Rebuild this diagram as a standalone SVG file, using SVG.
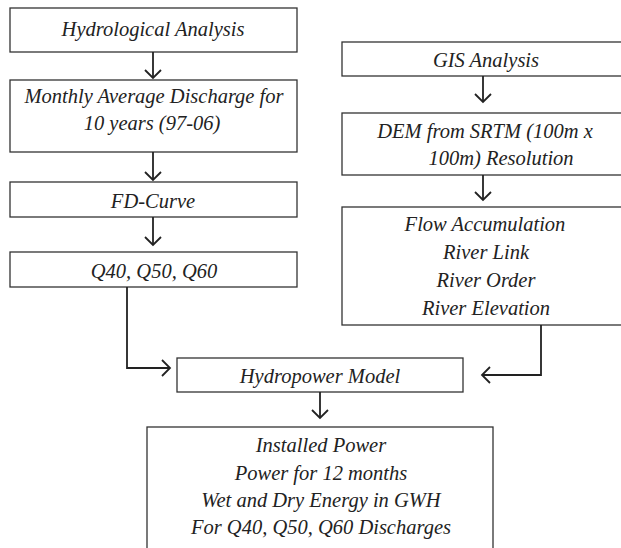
<svg xmlns="http://www.w3.org/2000/svg" width="621" height="548" viewBox="0 0 621 548">
<defs>
<style>
.box{fill:#fff;stroke:#333;stroke-width:1.3}
.t{font-family:"Liberation Serif","DejaVu Serif",serif;font-style:italic;font-size:20.5px;fill:#222;text-anchor:middle}
.c{fill:none;stroke:#222;stroke-width:1.8}
</style>
<marker id="ah" markerUnits="userSpaceOnUse" markerWidth="20" markerHeight="20" viewBox="-10 -10 20 20" refX="0" refY="0" orient="auto">
<path d="M-8,-8 L0,0 L-8,8" fill="none" stroke="#222" stroke-width="1.8"/>
</marker>
</defs>
<rect width="621" height="548" fill="#fff"/>
<g id="n1"><rect class="box" x="10" y="8" width="287" height="44"/><text class="t" x="153" y="36">Hydrological Analysis</text></g>
<g id="n2"><rect class="box" x="10" y="80" width="287" height="72"/><text class="t" x="154" y="103">Monthly Average Discharge for</text><text class="t" x="152" y="130">10 years (97-06)</text></g>
<g id="n3"><rect class="box" x="10" y="182" width="287" height="35"/><text class="t" x="153" y="208">FD-Curve</text></g>
<g id="n4"><rect class="box" x="10" y="252" width="287" height="35"/><text class="t" x="154" y="278">Q40, Q50, Q60</text></g>
<g id="n5"><rect class="box" x="342" y="42" width="290" height="34"/><text class="t" x="486" y="67">GIS Analysis</text></g>
<g id="n6"><rect class="box" x="342" y="113" width="290" height="62"/><text class="t" x="485" y="138">DEM from SRTM (100m x</text><text class="t" x="501" y="165">100m) Resolution</text></g>
<g id="n7"><rect class="box" x="342" y="207" width="290" height="118"/><text class="t" x="485" y="231">Flow Accumulation</text><text class="t" x="486" y="259">River Link</text><text class="t" x="486" y="287">River Order</text><text class="t" x="486" y="315">River Elevation</text></g>
<g id="n8"><rect class="box" x="177" y="358" width="286" height="34"/><text class="t" x="320" y="383">Hydropower Model</text></g>
<g id="n9"><rect class="box" x="147" y="427" width="346" height="140"/><text class="t" x="321" y="452">Installed Power</text><text class="t" x="321" y="480">Power for 12 months</text><text class="t" x="321" y="507">Wet and Dry Energy in GWH</text><text class="t" x="321" y="534">For Q40, Q50, Q60 Discharges</text></g>
<g id="connectors">
<path class="c" d="M153,52 V78" marker-end="url(#ah)"/>
<path class="c" d="M153,152 V180" marker-end="url(#ah)"/>
<path class="c" d="M153,217 V245" marker-end="url(#ah)"/>
<path class="c" d="M127,287 V368 H170" marker-end="url(#ah)"/>
<path class="c" d="M483,76 V102" marker-end="url(#ah)"/>
<path class="c" d="M483,175 V200" marker-end="url(#ah)"/>
<path class="c" d="M541,325 V375 H482" marker-end="url(#ah)"/>
<path class="c" d="M320,392 V418" marker-end="url(#ah)"/>
</g>
</svg>
